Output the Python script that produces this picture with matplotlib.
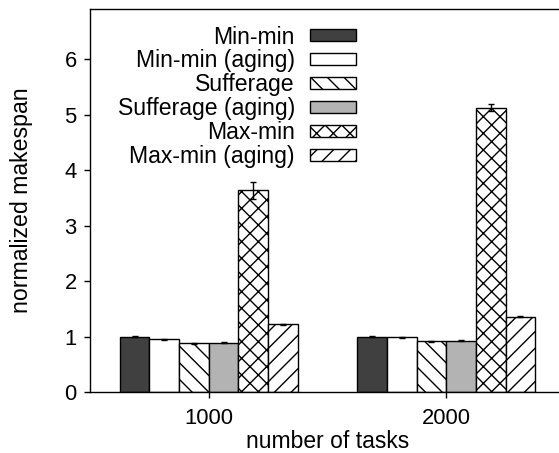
import numpy as np
import matplotlib
matplotlib.use("Agg")
import matplotlib.pyplot as plt

plt.rcParams["font.family"] = ["Liberation Sans", "DejaVu Sans"]
plt.rcParams["hatch.linewidth"] = 1.0

# =====================================
# DATA
# =====================================
task_counts = ["1000", "2000"]
heuristics = ["Min-min", "Min-min (aging)", "Sufferage",
              "Sufferage (aging)", "Max-min", "Max-min (aging)"]

makespan = {
    "Min-min":           [1.00, 1.00],
    "Min-min (aging)":   [0.95, 0.985],
    "Sufferage":         [0.88, 0.915],
    "Sufferage (aging)": [0.89, 0.925],
    "Max-min":           [3.64, 5.13],
    "Max-min (aging)":   [1.225, 1.36],
}
makespan_err = {
    "Min-min":           [0.01, 0.01],
    "Min-min (aging)":   [0.01, 0.01],
    "Sufferage":         [0.01, 0.01],
    "Sufferage (aging)": [0.01, 0.01],
    "Max-min":           [0.15, 0.06],
    "Max-min (aging)":   [0.01, 0.01],
}

# bar styles
colors = ["#404040", "white", "white", "#b3b3b3", "white", "white"]
hatches = [None, None, "\\\\", None, "xx", "//"]

# =====================================
# PLOT
# =====================================
fig = plt.figure(figsize=(5.59, 4.53), dpi=100)
W, H = 559, 453
ax = fig.add_axes([90 / W, 1 - 392 / H, (565 - 90) / W, (392 - 8.5) / H])

x = np.arange(len(task_counts))
width = 0.125
for i, name in enumerate(heuristics):
    ax.bar(x + (i - 2.5) * width, makespan[name], width,
           yerr=makespan_err[name], color=colors[i], hatch=hatches[i],
           edgecolor="black", linewidth=1.0, label=name,
           error_kw=dict(ecolor="black", elinewidth=1.0, capsize=2.5, capthick=1.0))

ax.set_xlim(-0.5, 1.5)
ax.set_ylim(0, 6.92)
ax.set_xticks(x)
ax.set_xticklabels(task_counts)
ax.set_yticks(range(7))
ax.tick_params(axis="both", direction="out", length=4.5, width=1.0,
               labelsize=15.8, pad=5)
ax.tick_params(axis="x", pad=7)

ax.set_xlabel("number of tasks", fontsize=16.5, labelpad=1)
ax.set_ylabel("normalized makespan", fontsize=16.7, labelpad=23)

for s in ax.spines.values():
    s.set_linewidth(1.0)

ax.legend(loc="upper right", bbox_to_anchor=(356 / W, 1 - 25.5 / H),
          bbox_transform=fig.transFigure, markerfirst=False, frameon=False,
          fontsize=16.6, handlelength=2.0, handleheight=0.4,
          handletextpad=0.65, labelspacing=0.04, borderpad=0,
          borderaxespad=0)

plt.savefig("out.png", dpi=100)
plt.close()
